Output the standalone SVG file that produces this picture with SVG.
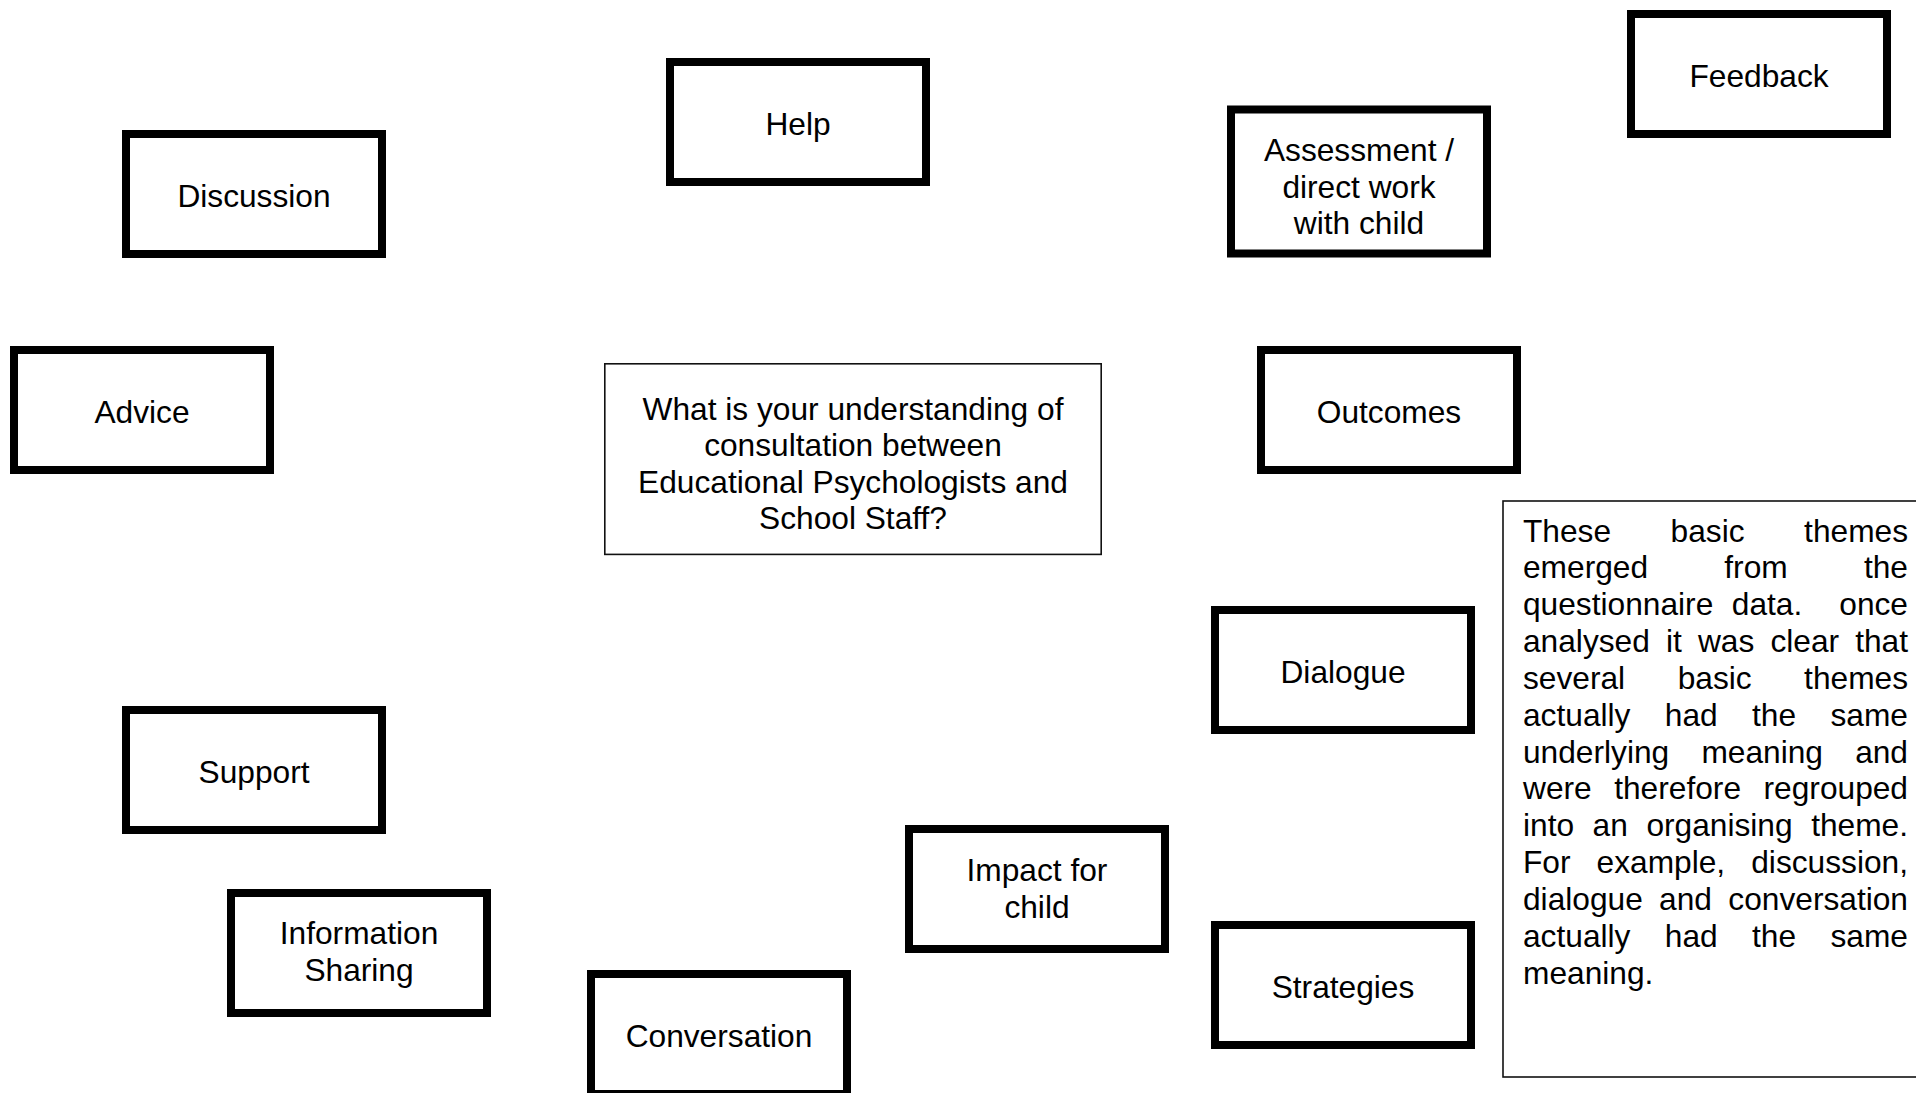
<svg xmlns="http://www.w3.org/2000/svg" width="1916" height="1093" viewBox="0 0 1916 1093">
  <style>
    text { font-family: "Liberation Sans", Arial, sans-serif; font-size: 31.7px; fill: #000; }
    .lbl { text-anchor: middle; }
    .theme { fill: #fff; stroke: #000; stroke-width: 8; }
    .thin { fill: #fff; stroke: #111; stroke-width: 1.6; }
    .end { text-anchor: end; }
  </style>
  <rect x="0" y="0" width="1916" height="1093" fill="#fff"/>

  <!-- basic themes (heavy outlined boxes) -->
  <g id="help">
    <rect class="theme" x="670" y="62" width="256" height="120"/>
    <text class="lbl" x="798" y="135">Help</text>
  </g>
  <g id="discussion">
    <rect class="theme" x="126" y="134" width="256" height="120"/>
    <text class="lbl" x="254" y="207">Discussion</text>
  </g>
  <g id="feedback">
    <rect class="theme" x="1631" y="14" width="256" height="120"/>
    <text class="lbl" x="1759" y="87">Feedback</text>
  </g>
  <g id="assessment">
    <rect class="theme" x="1231" y="109.5" width="256" height="144"/>
    <text class="lbl" x="1359" y="161">Assessment /</text>
    <text class="lbl" x="1359" y="197.5">direct work</text>
    <text class="lbl" x="1359" y="234">with child</text>
  </g>
  <g id="advice">
    <rect class="theme" x="14" y="350" width="256" height="120"/>
    <text class="lbl" x="142" y="423">Advice</text>
  </g>
  <g id="outcomes">
    <rect class="theme" x="1261" y="350" width="256" height="120"/>
    <text class="lbl" x="1389" y="423">Outcomes</text>
  </g>
  <g id="dialogue">
    <rect class="theme" x="1215" y="610" width="256" height="120"/>
    <text class="lbl" x="1343" y="683">Dialogue</text>
  </g>
  <g id="support">
    <rect class="theme" x="126" y="710" width="256" height="120"/>
    <text class="lbl" x="254" y="783">Support</text>
  </g>
  <g id="impact-for-child">
    <rect class="theme" x="909" y="829" width="256" height="120"/>
    <text class="lbl" x="1037" y="881">Impact for</text>
    <text class="lbl" x="1037" y="917.7">child</text>
  </g>
  <g id="information-sharing">
    <rect class="theme" x="231" y="893" width="256" height="120"/>
    <text class="lbl" x="359" y="944">Information</text>
    <text class="lbl" x="359" y="980.7">Sharing</text>
  </g>
  <g id="strategies">
    <rect class="theme" x="1215" y="925" width="256" height="120"/>
    <text class="lbl" x="1343" y="998">Strategies</text>
  </g>
  <g id="conversation">
    <rect class="theme" x="591" y="974" width="256" height="120"/>
    <text class="lbl" x="719" y="1047">Conversation</text>
  </g>

  <!-- central question -->
  <g id="question">
    <rect class="thin" x="604.8" y="363.8" width="496.4" height="190.6"/>
    <text class="lbl" x="853" y="419.5">What is your understanding of</text>
    <text class="lbl" x="853" y="456">consultation between</text>
    <text class="lbl" x="853" y="492.5">Educational Psychologists and</text>
    <text class="lbl" x="853" y="529">School Staff?</text>
  </g>

  <!-- explanatory note, justified word by word -->
  <g id="note">
    <rect class="thin" x="1503" y="501" width="440" height="576"/>
    <text y="541.5"><tspan x="1523">These</tspan><tspan x="1670.6">basic</tspan><tspan class="end" x="1908">themes</tspan></text>
    <text y="578.3"><tspan x="1523">emerged</tspan><tspan x="1724.3">from</tspan><tspan class="end" x="1908">the</tspan></text>
    <text y="615.2"><tspan x="1523">questionnaire</tspan><tspan x="1731.8">data.</tspan><tspan class="end" x="1908">once</tspan></text>
    <text y="652"><tspan x="1523">analysed</tspan><tspan x="1666">it</tspan><tspan x="1697.9">was</tspan><tspan x="1770.4">clear</tspan><tspan class="end" x="1908">that</tspan></text>
    <text y="688.9"><tspan x="1523">several</tspan><tspan x="1677.7">basic</tspan><tspan class="end" x="1908">themes</tspan></text>
    <text y="725.7"><tspan x="1523">actually</tspan><tspan x="1664.8">had</tspan><tspan x="1752">the</tspan><tspan class="end" x="1908">same</tspan></text>
    <text y="762.6"><tspan x="1523">underlying</tspan><tspan x="1701.4">meaning</tspan><tspan class="end" x="1908">and</tspan></text>
    <text y="799.4"><tspan x="1523">were</tspan><tspan x="1614.2">therefore</tspan><tspan class="end" x="1908">regrouped</tspan></text>
    <text y="836.3"><tspan x="1523">into</tspan><tspan x="1592.6">an</tspan><tspan x="1646.4">organising</tspan><tspan class="end" x="1908">theme.</tspan></text>
    <text y="873.1"><tspan x="1523">For</tspan><tspan x="1596.6">example,</tspan><tspan class="end" x="1908">discussion,</tspan></text>
    <text y="910"><tspan x="1523">dialogue</tspan><tspan x="1659.1">and</tspan><tspan class="end" x="1908">conversation</tspan></text>
    <text y="946.8"><tspan x="1523">actually</tspan><tspan x="1664.8">had</tspan><tspan x="1752">the</tspan><tspan class="end" x="1908">same</tspan></text>
    <text y="983.7" x="1523">meaning.</text>
  </g>

  <!-- no connectors are drawn between the themes -->
  <g id="connectors"/>
</svg>
